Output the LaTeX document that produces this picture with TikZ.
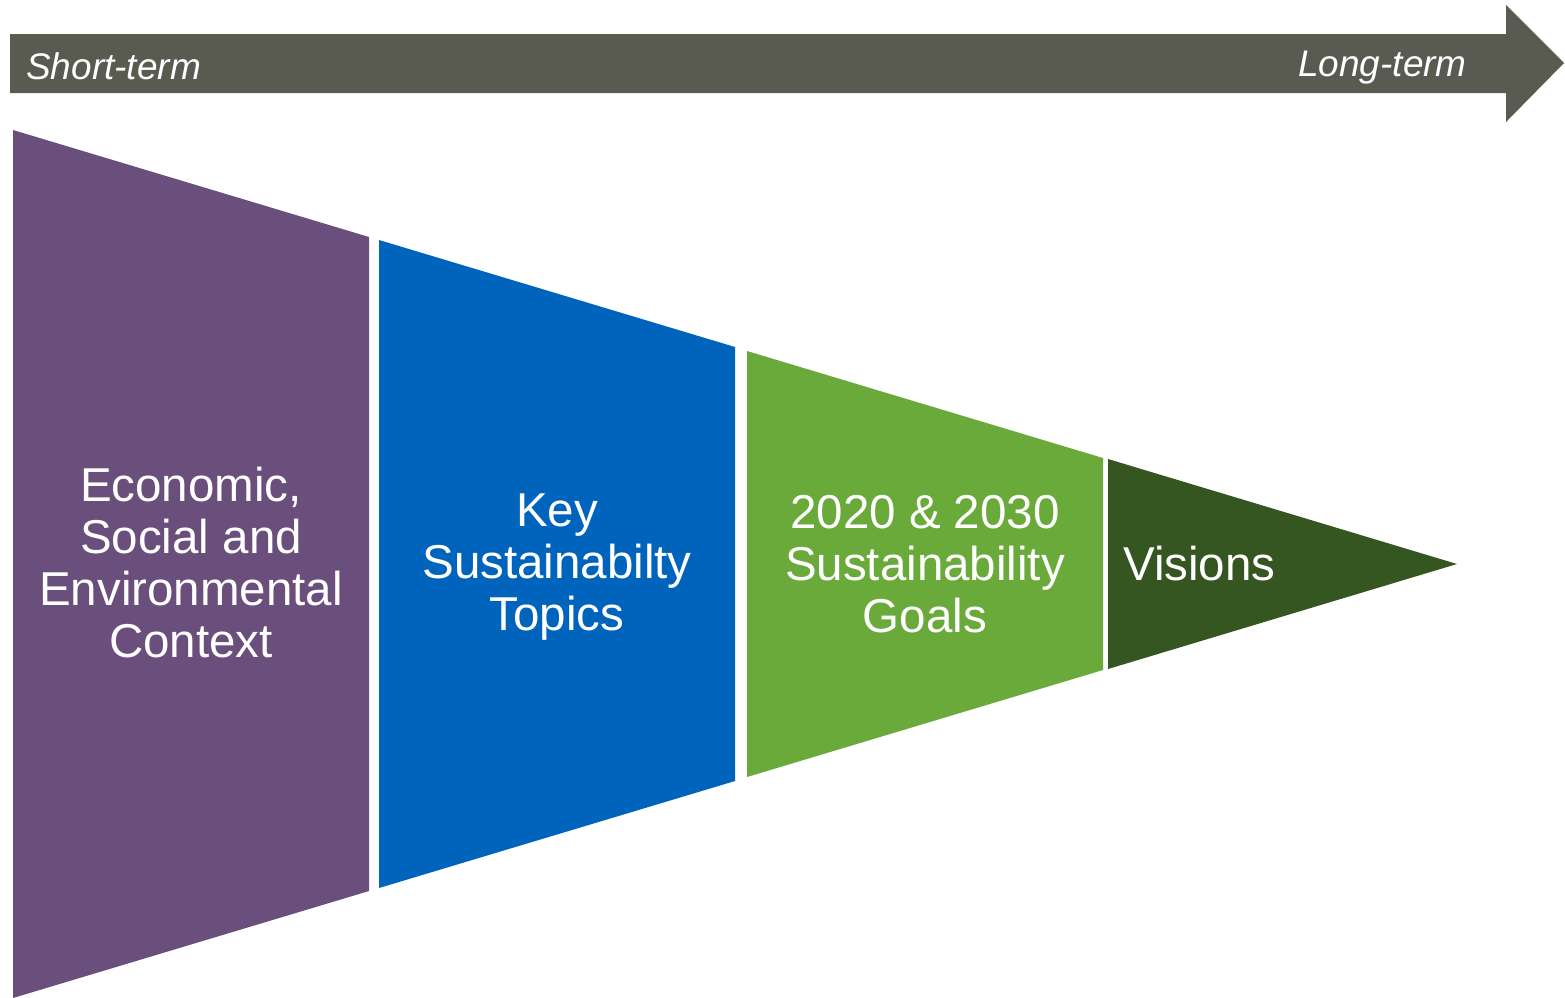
\documentclass[tikz,border=0pt]{standalone}
\usepackage{fontspec}
\setmainfont{Liberation Sans}
\definecolor{arrowgrey}{HTML}{595A50}
\definecolor{ctxpurple}{HTML}{6A4E7B}
\definecolor{topicblue}{HTML}{0064BC}
\definecolor{goalgreen}{HTML}{6AAA3B}
\definecolor{visiongreen}{HTML}{365621}
\begin{document}
\begin{tikzpicture}[x=1pt,y=-1pt,
  segtext/.style={text=white,align=center,font=\fontsize{47.5}{52}\selectfont},
  termtext/.style={text=white,font=\fontsize{37}{40}\selectfont\itshape}]
\useasboundingbox (0,0) rectangle (1565,997);
% time arrow
\fill[arrowgrey] (10,34) -- (1506,34) -- (1506,5) -- (1564,63) -- (1506,122) -- (1506,93) -- (10,93) -- cycle;
\node[termtext,anchor=base west,inner sep=0] (short) at (26,79) {Short-term};
\node[termtext,anchor=base east,inner sep=0] (long) at (1467,76) {Long-term};
% funnel segments (edges run from (13,130)/(13,998) to the apex (1457,564))
\fill[ctxpurple] (13,130) -- (369,237) -- (369,891) -- (13,998) -- cycle;
\fill[topicblue] (379,240) -- (735,347) -- (735,781) -- (379,888) -- cycle;
\fill[goalgreen] (747,351) -- (1103,458) -- (1103,670) -- (747,777) -- cycle;
\fill[visiongreen] (1108,459) -- (1457,564) -- (1108,669) -- cycle;
\node[segtext] (context) at (191,563) {Economic,\\Social and\\Environmental\\Context};
\node[segtext] (topics) at (557,567) {Key\\Sustainabilty\\Topics};
\node[segtext] (goals) at (925,564) {2020 \& 2030\\Sustainability\\Goals};
\node[segtext,anchor=west,inner sep=0] (visions) at (1123,564) {Visions};
\end{tikzpicture}
\end{document}
